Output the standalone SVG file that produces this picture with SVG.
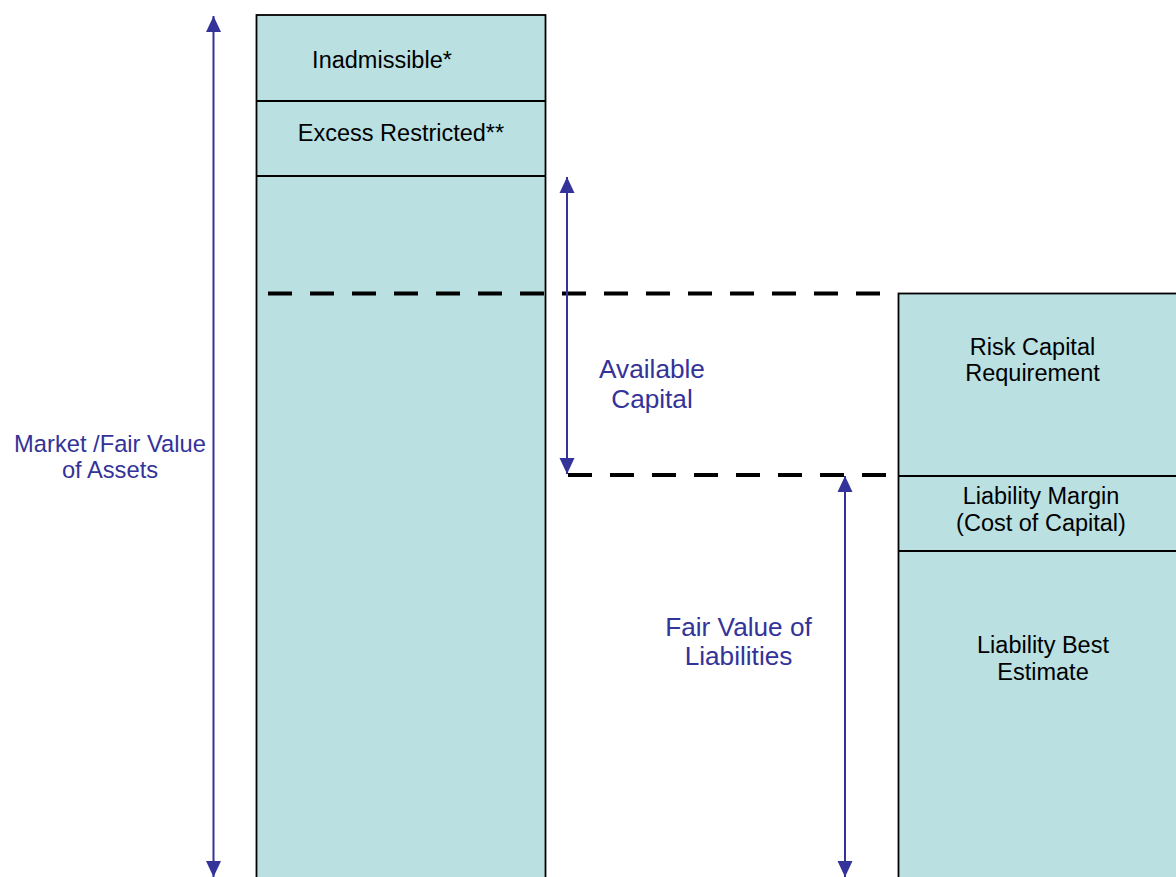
<svg xmlns="http://www.w3.org/2000/svg" width="1176" height="877" viewBox="0 0 1176 877">
<defs>
<style>
.box{fill:#BAE0E2;stroke:#000;stroke-width:1.8}
.div{stroke:#000;stroke-width:1.8;fill:none}
.t{font-family:"Liberation Sans",Arial,sans-serif;font-size:23.5px;fill:#000;text-anchor:middle}
.b{font-family:"Liberation Sans",Arial,sans-serif;font-size:23.7px;fill:#333399;text-anchor:middle}
.bl{font-size:26.2px}
.arr{stroke:#333399;stroke-width:2;fill:none;marker-start:url(#ah);marker-end:url(#ah)}
.dash{stroke:#000;stroke-width:4;stroke-dasharray:24 18;fill:none}
</style>
<marker id="ah" markerUnits="userSpaceOnUse" viewBox="0 0 16 16" refX="16" refY="8" markerWidth="16" markerHeight="16" orient="auto-start-reverse">
<path d="M0,0.5 L16,8 L0,15.5 Z" fill="#333399"/>
</marker>
</defs>
<rect width="1176" height="877" fill="#fff"/>
<g id="assets">
<rect class="box" x="256.5" y="15" width="289" height="880"/>
<line class="div" x1="256.5" y1="101" x2="545.5" y2="101"/>
<line class="div" x1="256.5" y1="176" x2="545.5" y2="176"/>
<text class="t" x="382" y="68">Inadmissible*</text>
<text class="t" x="401" y="141">Excess Restricted**</text>
</g>
<g id="liabilities">
<rect class="box" x="898.5" y="293.5" width="300" height="600"/>
<line class="div" x1="898.5" y1="476" x2="1180" y2="476"/>
<line class="div" x1="898.5" y1="551" x2="1180" y2="551"/>
<text class="t" x="1032.5" y="355">Risk Capital</text>
<text class="t" x="1032.5" y="381">Requirement</text>
<text class="t" x="1041" y="504">Liability Margin</text>
<text class="t" x="1041" y="531">(Cost of Capital)</text>
<text class="t" x="1043" y="653">Liability Best</text>
<text class="t" x="1043" y="680">Estimate</text>
</g>
<g id="connectors">
<line class="dash" x1="268" y1="293.5" x2="882" y2="293.5"/>
<line class="dash" x1="568" y1="475" x2="888" y2="475"/>
<line class="arr" x1="213.5" y1="16" x2="213.5" y2="877"/>
<line class="arr" x1="567" y1="177" x2="567" y2="474"/>
<line class="arr" x1="845" y1="476" x2="845" y2="877"/>
</g>
<g id="labels">
<text class="b" x="110" y="452">Market /Fair Value</text>
<text class="b" x="110" y="478">of Assets</text>
<text class="b bl" x="652" y="378">Available</text>
<text class="b bl" x="652" y="408">Capital</text>
<text class="b bl" x="738.5" y="636">Fair Value of</text>
<text class="b bl" x="738.5" y="665">Liabilities</text>
</g>
</svg>
